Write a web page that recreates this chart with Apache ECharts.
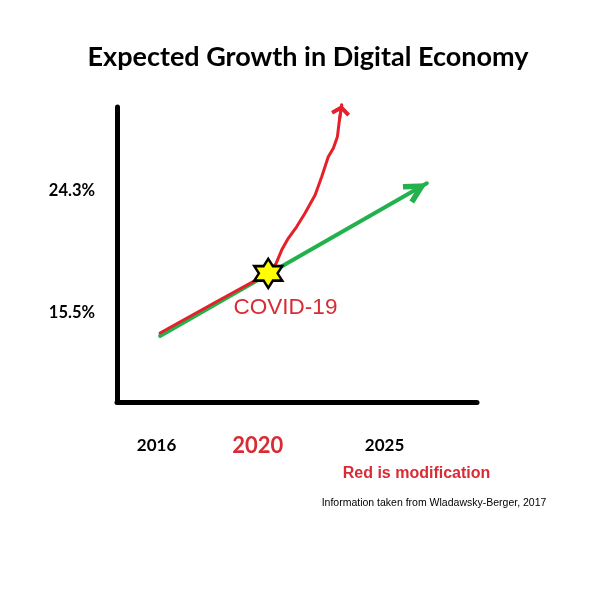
<!DOCTYPE html>
<html><head><meta charset="utf-8">
<script src="https://cdn.jsdelivr.net/npm/echarts@6/dist/echarts.min.js"></script>
<style>html,body{margin:0;padding:0;background:#fff}#c{width:595px;height:589px}</style>
</head><body><div id="c"></div>
<script>
// ---- data ----
const yearTicks = [2016, 2020, 2025];
const highlightYear = 2020;
const pctTicks = [15.5, 24.3];
const expectedPath = [[2016.14, 13.84], [2026.67, 24.86]];
const modifiedPath = [
  [2016.14, 14.06], [2018.31, 16.26], [2020.41, 18.36], [2020.72, 19.08],
  [2020.94, 20.04], [2021.20, 20.89], [2021.53, 21.72], [2021.86, 22.69],
  [2022.26, 24.01], [2022.52, 25.33], [2022.78, 26.77], [2022.98, 27.38],
  [2023.14, 28.22], [2023.22, 29.42], [2023.31, 30.50]
];
const covidPoint = [[2020.41, 18.36]];
const titleText = 'Expected Growth in Digital Economy';
const covidText = 'COVID-19';
const noteText = 'Red is modification';
const sourceText = 'Information taken from Wladawsky-Berger, 2017';

// ---- styles ----
const GREEN = '#22b14c', RED = '#e5202a', TEXT_RED = '#d92b33';
const box = 'M0,0 L0.2,0 L0,0.2 Z M100,100 L99.8,100 L100,99.8 Z ';
const greenHead = 'path://' + box + 'M50,50 L73.5,94 L63.4,99.4 L50,74.5 L36.6,99.4 L26.5,94 Z';
const redHead = 'path://' + box + 'M50,50 L90,81 L79.8,94.2 L50,71 L20.2,94.2 L10,81 Z';
const star = 'path://M50,0 L64.43,25 L93.3,25 L78.87,50 L93.3,75 L64.43,75 L50,100 L35.57,75 L6.7,75 L21.13,50 L6.7,25 L35.57,25 Z';
const boldFont = 'Lato, "Open Sans", sans-serif';

const chart = echarts.init(document.getElementById('c'));
chart.setOption({
  animation: false,
  backgroundColor: '#fff',
  grid: { left: 117, right: 118, top: 107, bottom: 187 },
  xAxis: {
    type: 'value', min: 2014.44, max: 2028.65,
    splitLine: { show: false }, axisTick: { show: false },
    axisLine: { onZero: false, lineStyle: { color: '#000', width: 5, cap: 'round' } },
    axisLabel: {
      customValues: yearTicks, margin: 34,
      formatter: v => (v === highlightYear ? '{r|' + v + '}' : '{b|' + v + '}'),
      rich: {
        b: { fontFamily: boldFont, fontWeight: 'bold', fontSize: 17, color: '#000', lineHeight: 20 },
        r: { fontFamily: boldFont, fontWeight: 'bold', fontSize: 22, color: TEXT_RED, lineHeight: 20 }
      }
    }
  },
  yAxis: {
    type: 'value', min: 9.08, max: 30.36,
    splitLine: { show: false }, axisTick: { show: false },
    axisLine: { onZero: false, lineStyle: { color: '#000', width: 5, cap: 'round' } },
    axisLabel: {
      customValues: pctTicks, margin: 22,
      formatter: v => v.toFixed(1) + '%',
      fontFamily: boldFont, fontWeight: 'bold', fontSize: 16.5, color: '#000'
    }
  },
  series: [
    {
      type: 'lines', coordinateSystem: 'cartesian2d', clip: false, z: 2,
      symbol: ['none', greenHead], symbolSize: 48,
      lineStyle: { color: GREEN, width: 4, opacity: 1, cap: 'round' },
      data: [{ coords: expectedPath }]
    },
    {
      type: 'line', clip: false, z: 3, showSymbol: false, symbol: 'none',
      lineStyle: { color: RED, width: 3, cap: 'round', join: 'round' },
      data: modifiedPath
    },
    {
      type: 'lines', coordinateSystem: 'cartesian2d', clip: false, z: 3,
      symbol: ['none', redHead], symbolSize: 24,
      lineStyle: { color: RED, width: 3, opacity: 1, cap: 'round' },
      data: [{ coords: modifiedPath.slice(-2) }]
    },
    {
      type: 'scatter', z: 5, symbol: star, symbolSize: [28, 29],
      itemStyle: { color: '#ffff00', borderColor: '#000', borderWidth: 2.5, opacity: 1 },
      data: covidPoint
    }
  ],
  graphic: [
    { type: 'text', z: 10, x: 308, y: 57,
      style: { text: titleText, font: 'bold 27px ' + boldFont, fill: '#000', align: 'center', verticalAlign: 'middle' } },
    { type: 'text', z: 10, x: 285.5, y: 308,
      style: { text: covidText, font: '22.5px "Liberation Sans", Arial, sans-serif', fill: TEXT_RED, align: 'center', verticalAlign: 'middle' } },
    { type: 'text', z: 10, x: 416.5, y: 474,
      style: { text: noteText, font: 'bold 16px "Liberation Sans", Arial, sans-serif', fill: TEXT_RED, align: 'center', verticalAlign: 'middle' } },
    { type: 'text', z: 10, x: 434, y: 503,
      style: { text: sourceText, font: '10.5px "Liberation Sans", Arial, sans-serif', fill: '#000', align: 'center', verticalAlign: 'middle' } }
  ]
});
</script></body></html>
